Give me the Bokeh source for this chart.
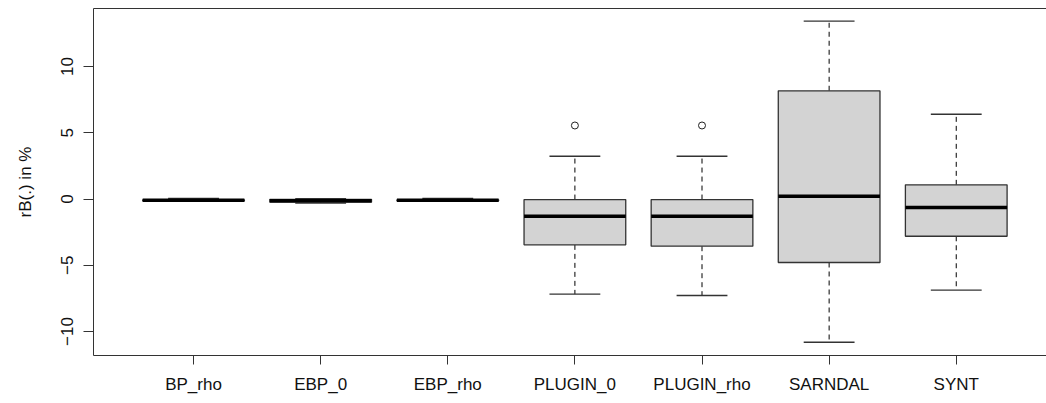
import numpy as np
from bokeh.plotting import figure
from bokeh.models import FixedTicker, Range1d, LinearAxis, ColumnDataSource
from bokeh.embed import file_html
from bokeh.resources import INLINE

categories = ["BP_rho", "EBP_0", "EBP_rho", "PLUGIN_0", "PLUGIN_rho", "SARNDAL", "SYNT"]
lower_whisker = [-0.15, -0.30, -0.15, -7.18, -7.28, -10.81, -6.88]
q1 = [-0.14, -0.24, -0.14, -3.46, -3.56, -4.79, -2.81]
median = [-0.10, -0.13, -0.10, -1.30, -1.30, 0.21, -0.64]
q3 = [-0.06, -0.02, -0.06, -0.04, -0.04, 8.17, 1.07]
upper_whisker = [0.05, 0.02, 0.05, 3.23, 3.23, 13.42, 6.40]
outlier_cat = ["PLUGIN_0", "PLUGIN_rho"]
outlier_val = [5.55, 5.55]
y_ticks = [-10, -5, 0, 5, 10]

pos = np.arange(1, len(categories) + 1)
cat_pos = {c: i + 1 for i, c in enumerate(categories)}
BW = 0.8
CW = 0.4

src = ColumnDataSource(dict(
    x=pos, lw=lower_whisker, q1=q1, med=median, q3=q3, uw=upper_whisker,
    bx0=pos - BW / 2, bx1=pos + BW / 2, cx0=pos - CW / 2, cx1=pos + CW / 2,
))

FONT = "Liberation Sans"
p = figure(width=1046, height=403, output_backend="svg", toolbar_location=None,
           x_range=Range1d(0.213, 7.71), y_range=Range1d(-11.81, 14.38),
           min_border_left=93, min_border_right=0, min_border_top=8, min_border_bottom=48)
p.outline_line_color = None
p.grid.visible = False
p.background_fill_color = "white"
p.border_fill_color = "white"

# whiskers
p.segment(x0="x", y0="q3", x1="x", y1="uw", source=src, line_color="black",
          line_width=1, line_dash="5 4")
p.segment(x0="x", y0="q1", x1="x", y1="lw", source=src, line_color="black",
          line_width=1, line_dash="5 4")
# caps
p.segment(x0="cx0", y0="uw", x1="cx1", y1="uw", source=src, line_color="#333333", line_width=1.3)
p.segment(x0="cx0", y0="lw", x1="cx1", y1="lw", source=src, line_color="#333333", line_width=1.3)
# boxes
p.quad(left="bx0", right="bx1", bottom="q1", top="q3", source=src,
       fill_color="#d3d3d3", line_color="#333333", line_width=1.3)
# median
p.segment(x0="bx0", y0="med", x1="bx1", y1="med", source=src, line_color="black", line_width=3.5)
# outliers
p.scatter([cat_pos[c] for c in outlier_cat], outlier_val, size=7, marker="circle",
          fill_color=None, line_color="#222222", line_width=1)

# x axis
xa = p.xaxis[0]
xa.ticker = FixedTicker(ticks=list(pos))
xa.major_label_overrides = {int(i): c for i, c in zip(pos, categories)}
xa.minor_tick_line_color = None
xa.major_tick_out = 9
xa.major_tick_in = 0
xa.major_label_standoff = 10
xa.major_label_text_font = FONT
xa.major_label_text_font_size = "17px"
xa.major_label_text_color = "#111111"
xa.axis_line_color = "#333333"
xa.major_tick_line_color = "#333333"

# y axis
ya = p.yaxis[0]
ya.ticker = FixedTicker(ticks=y_ticks)
ya.minor_tick_line_color = None
ya.major_tick_out = 10
ya.major_tick_in = 0
ya.major_label_orientation = "parallel"
ya.major_label_standoff = 10
ya.major_label_text_font = FONT
ya.major_label_text_font_size = "17px"
ya.major_label_text_color = "#111111"
ya.axis_line_color = "#333333"
ya.major_tick_line_color = "#333333"
ya.axis_label = "rB(.) in %"
ya.axis_label_text_font = FONT
ya.axis_label_text_font_size = "17px"
ya.axis_label_text_font_style = "normal"
ya.axis_label_text_color = "#111111"
ya.axis_label_standoff = 24

# top frame line
top = LinearAxis(ticker=FixedTicker(ticks=[]), major_label_text_font_size="0px",
                 major_tick_out=0, major_tick_in=0, minor_tick_out=0, minor_tick_in=0,
                 major_label_standoff=0, axis_line_color="#333333")
p.add_layout(top, "above")

open("out.html", "w").write(file_html(p, INLINE))
